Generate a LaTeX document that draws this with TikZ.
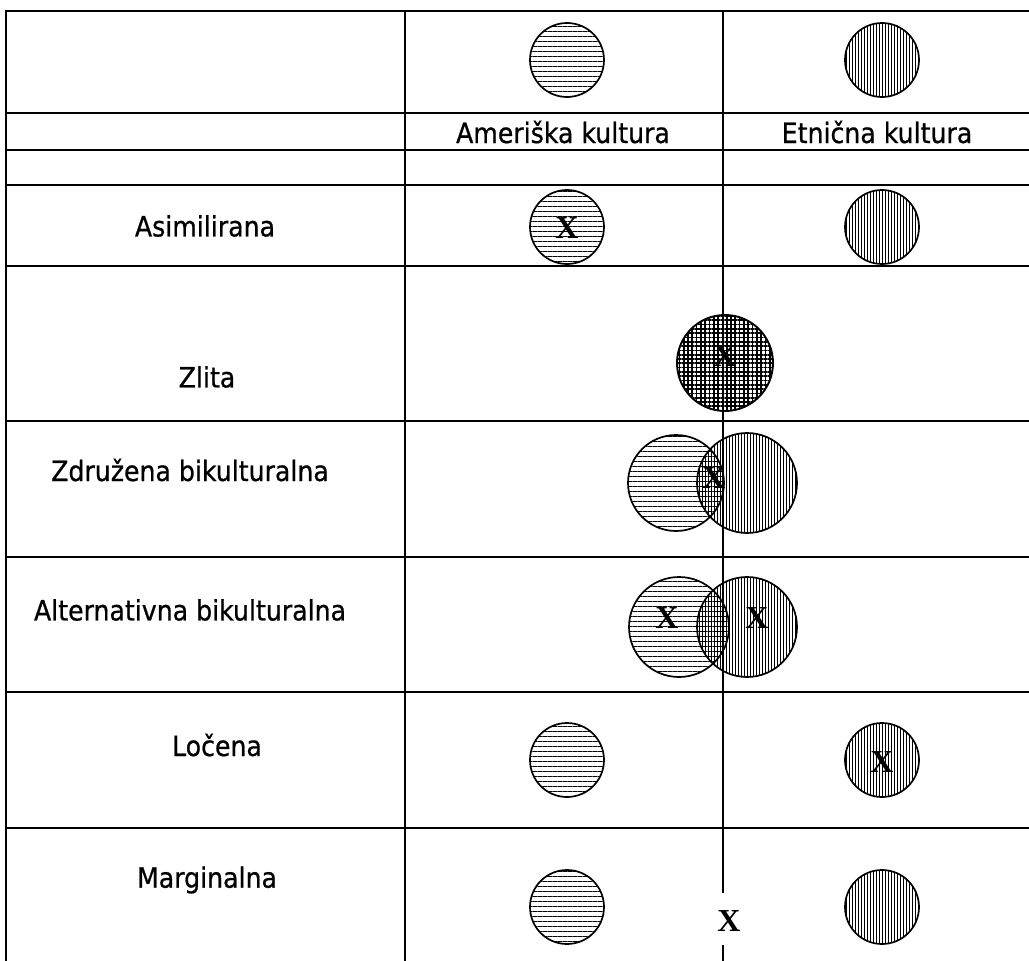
\documentclass[tikz,border=0pt]{standalone}
\usepackage{fontspec}
\setmainfont{DejaVu Sans}[FakeStretch=0.9,FakeBold=0.7]
\newfontfamily\xfont{Liberation Serif}
\usetikzlibrary{patterns.meta}
\begin{document}
\begin{tikzpicture}[x=1pt,y=-1pt,
  rule/.style={line width=1.5pt},
  lab/.style={font=\fontsize{28}{32}\selectfont, inner sep=0pt},
  xm/.style={font=\xfont\bfseries\fontsize{32}{34}\selectfont, inner sep=0pt},
  amer/.style={circle, draw, line width=1.7pt, inner sep=0pt, minimum size=74pt,
     pattern={Lines[angle=0,distance=5pt,line width=0.9pt]}},
  etn/.style={circle, draw, line width=1.7pt, inner sep=0pt, minimum size=74pt,
     pattern={Lines[angle=90,distance=3pt,line width=0.7pt]}},
  bigamer/.style={amer, minimum size=100pt},
  bigetn/.style={etn, minimum size=100pt},
]
\useasboundingbox (0,0) rectangle (1029,961);
% table rules
\foreach \yy in {11,113,150,185,266,421,557,692,828}
  \draw[rule] (5,\yy) -- (1029,\yy);
\draw[rule] (6,11) -- (6,961);
\draw[rule] (405,11) -- (405,961);
\coordinate (mtop) at (723,11);
\coordinate (mgap1) at (723,893);
\coordinate (mgap2) at (723,945);
\coordinate (mbot) at (723,961);
\draw[rule] (mtop) -- (mgap1);
\draw[rule] (mgap2) -- (mbot);
% header
\node[amer] (ha) at (567,60) {};
\node[etn] (he) at (882,60) {};
\node[lab] (ta) at (563,132) {Ameriška kultura};
\node[lab] (te) at (877,132) {Etnična kultura};
% row labels
\node[lab] (l1) at (205,226) {Asimilirana};
\node[lab] (l2) at (207,377) {Zlita};
\node[lab] (l3) at (190,470) {Združena bikulturalna};
\node[lab] (l4) at (190,610) {Alternativna bikulturalna};
\node[lab] (l5) at (217,745) {Ločena};
\node[lab] (l6) at (207,880) {Marginalna};
% Asimilirana
\node[amer] (a1) at (567,227) {};
\node[etn] (a2) at (882,227) {};
\node[xm] (ax) at (567,228) {X};
% Zlita
\node[circle, draw, line width=1.9pt, inner sep=0pt, minimum size=96pt,
   pattern={Lines[angle=0,distance=4.3pt,line width=1.7pt]}] (z) at (725,363) {};
\path[pattern={Lines[angle=90,distance=4.3pt,line width=1.7pt]}] (z.center) circle (48pt);
\node[xm] (zx) at (725,356) {X};
% Zdruzena
\node[bigamer, minimum size=96pt] (c1) at (676,483) {};
\node[bigetn] (c2) at (747,483) {};
\node[xm] (cx) at (714,478) {X};
% Alternativna
\node[bigamer] (d1) at (679,627) {};
\node[bigetn] (d2) at (747,627) {};
\node[xm] (dx1) at (667,618) {X};
\node[xm] (dx2) at (757,618) {X};
% Locena
\node[amer] (e1) at (567,760) {};
\node[etn] (e2) at (882,760) {};
\node[xm] (ex) at (882,762) {X};
% Marginalna
\node[amer] (f1) at (567,907) {};
\node[etn] (f2) at (882,907) {};
\node[xm] (fx) at (729,921) {X};
\end{tikzpicture}
\end{document}
